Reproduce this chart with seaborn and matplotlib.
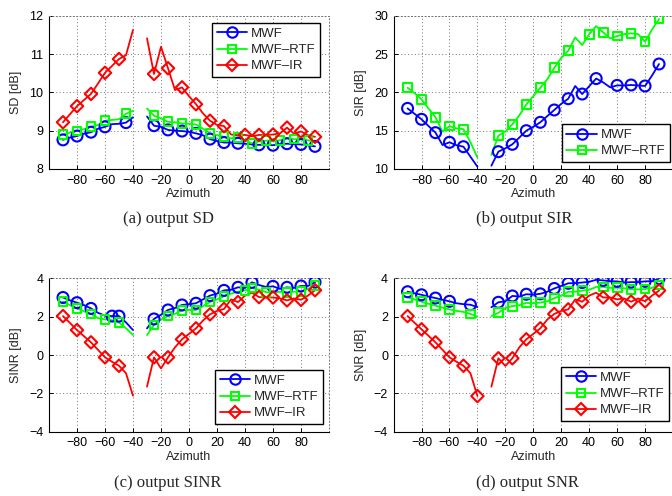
import numpy as np
import pandas as pd
import matplotlib
matplotlib.use("Agg")
import matplotlib.pyplot as plt
import seaborn as sns
from matplotlib.lines import Line2D

sns.set_theme(style="white")
plt.rcParams['font.family'] = ['Liberation Sans', 'DejaVu Sans']
plt.rcParams['axes.unicode_minus'] = True

nan = np.nan
azimuth = [-90, -85, -80, -75, -70, -65, -60, -55, -50, -45, -40, -35, -30, -25, -20,
           -15, -10, -5, 0, 5, 10, 15, 20, 25, 30, 35, 40, 45, 50, 55, 60, 65, 70,
           75, 80, 85, 90]

series_names = ["MWF", "MWF\u2013RTF", "MWF\u2013IR"]

# (a) SD [dB]
sd_mwf = [8.76, 8.82, 8.86, 8.92, 8.96, 9.05, 9.10, 9.17, 9.18, 9.21, 9.35, nan, 9.37, 9.13, 9.10,
          9.02, 9.00, 8.99, 8.97, 8.93, 8.88, 8.78, 8.73, 8.69, 8.69, 8.67, 8.66, 8.64, 8.63, 8.63,
          8.62, 8.65, 8.66, 8.65, 8.64, 8.62, 8.59]
sd_rtf = [8.89, 8.95, 8.99, 9.04, 9.10, 9.15, 9.26, 9.28, 9.30, 9.44, 9.52, nan, 9.58, 9.39, 9.32,
          9.23, 9.22, 9.19, 9.18, 9.16, 9.05, 8.93, 8.88, 8.84, 8.80, 8.83, 8.75, 8.67, 8.72, 8.74,
          8.73, 8.75, 8.80, 8.78, 8.77, 8.75, 8.72]
sd_ir = [9.22, 9.43, 9.64, 9.80, 9.96, 10.23, 10.51, 10.69, 10.87, 10.97, 11.63, nan, 11.41, 10.48,
         11.19, 10.63, 10.06, 10.13, 9.90, 9.69, 9.45, 9.26, 9.15, 9.12, 8.90, 8.88, 8.89, 8.85,
         8.89, 8.88, 8.90, 8.93, 9.08, 8.92, 8.98, 8.88, 8.84]
sd_mwf_marks = [-90, -80, -70, -60, -45, -25, -15, -5, 5, 15, 25, 35, 50, 60, 70, 80, 90]
sd_rtf_marks = [-90, -80, -70, -60, -45, -25, -15, -5, 5, 15, 25, 35, 45, 55, 65, 75, 85]
sd_ir_marks = [-90, -80, -70, -60, -50, -25, -15, -5, 5, 15, 25, 40, 50, 60, 70, 80, 90]

# (b) SIR [dB]
sir_mwf = [17.91, 17.2, 16.48, 15.6, 14.74, 13.13, 13.48, 13.1, 12.91, 11.6, 10.3, nan, 10.43, 12.26,
           12.7, 13.22, 14.1, 15.0, 15.5, 16.09, 16.9, 17.7, 18.5, 19.17, 20.83, 19.78, 20.8, 21.8,
           21.3, 20.65, 20.91, 20.9, 20.96, 20.9, 20.83, 22.2, 23.7]
sir_rtf = [20.6, 19.9, 19.09, 17.9, 16.74, 14.87, 15.6, 15.3, 15.2, 13.5, 11.5, nan, 11.83, 14.35,
           14.9, 15.83, 17.0, 18.43, 19.5, 20.6, 21.7, 23.2, 24.5, 25.43, 27.17, 26.17, 27.6, 28.65,
           27.83, 27.04, 27.35, 27.6, 27.7, 27.6, 26.6, 28.2, 29.57]
sir_mwf_marks = [-90, -80, -70, -60, -50, -25, -15, -5, 5, 15, 25, 35, 45, 60, 70, 80, 90]
sir_rtf_marks = [-90, -80, -70, -60, -50, -25, -15, -5, 5, 15, 25, 40, 50, 60, 70, 80, 90]

# (c) SINR [dB]
sinr_mwf = [3.0, 2.85, 2.73, 2.6, 2.43, 2.2, 2.05, 2.03, 2.03, 1.7, 1.3, nan, 1.39, 1.88, 2.1, 2.35,
            2.45, 2.61, 2.65, 2.7, 2.9, 3.1, 3.2, 3.37, 3.4, 3.53, 3.5, 3.79, 3.65, 3.55, 3.58, 3.45,
            3.53, 3.5, 3.6, 3.6, 3.8]
sinr_rtf = [2.78, 2.6, 2.43, 2.28, 2.14, 1.92, 1.86, 1.82, 1.69, 1.40, 1.04, nan, 1.04, 1.57, 1.85,
            2.03, 2.15, 2.33, 2.35, 2.35, 2.55, 2.77, 2.9, 3.06, 3.2, 3.3, 3.37, 3.5, 3.4, 3.28, 3.25,
            3.3, 3.25, 3.3, 3.31, 3.45, 3.62]
sinr_ir = [2.03, 1.67, 1.3, 0.98, 0.66, 0.27, -0.12, -0.35, -0.56, -0.95, -2.12, nan, -1.65, -0.12,
           -0.70, -0.12, 0.4, 0.82, 1.1, 1.39, 1.8, 2.12, 2.3, 2.4, 2.9, 2.76, 3.1, 3.25, 3.02, 3.0,
           3.0, 2.95, 2.85, 2.95, 2.88, 3.1, 3.38]
sinr_mwf_marks = [-90, -80, -70, -55, -50, -25, -15, -5, 5, 15, 25, 35, 45, 60, 70, 80, 90]
sinr_rtf_marks = [-90, -80, -70, -60, -50, -25, -15, -5, 5, 15, 25, 40, 45, 55, 70, 80, 90]
sinr_ir_marks = [-90, -80, -70, -60, -50, -25, -15, -5, 5, 15, 25, 35, 50, 60, 70, 80, 90]

# (d) SNR [dB]
snr_mwf = [3.3, 3.22, 3.14, 3.05, 2.97, 2.88, 2.8, 2.7, 2.65, 2.62, 2.5, nan, 2.49, 2.75, 2.8, 3.08,
           3.05, 3.17, 3.15, 3.19, 3.3, 3.47, 3.6, 3.74, 3.75, 3.78, 3.82, 3.92, 3.89, 3.85, 3.84,
           3.78, 3.8, 3.8, 3.84, 3.85, 3.99]
snr_rtf = [3.01, 2.9, 2.78, 2.67, 2.57, 2.47, 2.38, 2.3, 2.25, 2.14, 2.0, nan, 2.03, 2.2, 2.45, 2.55,
           2.6, 2.72, 2.7, 2.73, 2.8, 2.96, 3.1, 3.3, 3.3, 3.36, 3.4, 3.55, 3.55, 3.5, 3.51, 3.48,
           3.42, 3.42, 3.44, 3.5, 3.65]
snr_ir = [2.03, 1.68, 1.34, 1.0, 0.66, 0.27, -0.12, -0.35, -0.56, -0.95, -2.14, nan, -1.65, -0.17,
          -0.57, -0.17, 0.4, 0.82, 1.1, 1.39, 1.85, 2.14, 2.3, 2.38, 2.9, 2.78, 3.1, 3.25, 3.0, 3.0,
          2.9, 2.95, 2.78, 2.95, 2.8, 3.1, 3.36]
snr_mwf_marks = [-90, -80, -70, -60, -45, -25, -15, -5, 5, 15, 25, 35, 50, 60, 70, 80, 90]
snr_rtf_marks = [-90, -80, -70, -60, -45, -25, -15, -5, 5, 15, 25, 35, 50, 60, 70, 80, 90]
snr_ir_marks = [-90, -80, -70, -60, -50, -40, -25, -15, -5, 5, 15, 25, 35, 50, 60, 70, 80, 90]

xticks = [-80, -60, -40, -20, 0, 20, 40, 60, 80]

styles = {
    "MWF": dict(color=(0, 0, 1), marker="o", s=62),
    "MWF\u2013RTF": dict(color=(0, 1, 0), marker="s", s=40),
    "MWF\u2013IR": dict(color=(1, 0, 0), marker="D", s=40),
}
leg_ms = {"o": 7.5, "s": 6.2, "D": 6.2}

LW = 1.3
MEW = 1.5

fig = plt.figure(figsize=(6.72, 4.96), dpi=100)


def panel(pos, data, ylim, yticks, ylabel, leg_loc, leg_anchor, caption, cap_xy):
    ax = fig.add_axes(pos)
    for name, vals, marks in data:
        st = styles[name]
        df = pd.DataFrame({"az": azimuth, "val": vals})
        df["seg"] = np.where(df["az"] <= -40, 0, 1)
        df = df.dropna()
        sns.lineplot(data=df, x="az", y="val", units="seg", estimator=None, sort=False,
                     color=st["color"], lw=LW, ax=ax, zorder=2)
        mk = df[df["az"].isin(marks)]
        sns.scatterplot(data=mk, x="az", y="val", marker=st["marker"], s=st["s"],
                        color=st["color"], facecolor="none", edgecolor=st["color"],
                        linewidth=MEW, ax=ax, zorder=3)
    ax.set_xlim(-100, 100)
    ax.set_ylim(*ylim)
    ax.set_xticks(xticks)
    ax.set_yticks(yticks)
    ax.grid(True, linestyle=(0, (1, 2.5)), color="0.45", linewidth=0.7)
    for side in ["left", "bottom"]:
        ax.spines[side].set_color("black")
        ax.spines[side].set_linewidth(0.8)
    for side in ["top", "right"]:
        ax.spines[side].set_color("0.45")
        ax.spines[side].set_linewidth(0.7)
        ax.spines[side].set_linestyle((0, (1, 2.5)))
    ax.tick_params(bottom=True, left=True, direction="in", length=3, width=0.7,
                   labelsize=9, colors="black", pad=4)
    ax.set_xlabel("Azimuth", fontsize=9, labelpad=1)
    ax.set_ylabel(ylabel, fontsize=9, labelpad=5)
    handles = [Line2D([], [], color=styles[n]["color"], lw=LW, marker=styles[n]["marker"],
                      markersize=leg_ms[styles[n]["marker"]], markerfacecolor="none",
                      markeredgewidth=MEW) for n, _, _ in data]
    labels = [n for n, _, _ in data]
    leg = ax.legend(handles, labels, loc=leg_loc, bbox_to_anchor=leg_anchor, borderaxespad=0,
                    frameon=True, fancybox=False, framealpha=1, edgecolor="black",
                    fontsize=9.5, handlelength=2.3, handletextpad=0.3, borderpad=0.35,
                    labelspacing=0.3)
    leg.get_frame().set_linewidth(1.0)
    fig.text(cap_xy[0], cap_xy[1], caption, ha="center", va="center",
             family=["Liberation Serif", "DejaVu Serif"], fontsize=12)
    return ax


top_b, top_h = 0.6593, 0.3090
bot_b, bot_h = 0.1296, 0.3093
left_l, left_w = 0.0729, 0.4167
right_l, right_w = 0.5857, 0.4158

panel([left_l, top_b, left_w, top_h],
      [("MWF", sd_mwf, sd_mwf_marks), ("MWF\u2013RTF", sd_rtf, sd_rtf_marks),
       ("MWF\u2013IR", sd_ir, sd_ir_marks)],
      (8, 12), [8, 9, 10, 11, 12], "SD [dB]", "upper right", (0.968, 0.952),
      "(a) output SD", (0.25, 0.558))

panel([right_l, top_b, right_w, top_h],
      [("MWF", sir_mwf, sir_mwf_marks), ("MWF\u2013RTF", sir_rtf, sir_rtf_marks)],
      (10, 30), [10, 15, 20, 25, 30], "SIR [dB]", "lower right", (0.989, 0.046),
      "(b) output SIR", (0.78, 0.558))

panel([left_l, bot_b, left_w, bot_h],
      [("MWF", sinr_mwf, sinr_mwf_marks), ("MWF\u2013RTF", sinr_rtf, sinr_rtf_marks),
       ("MWF\u2013IR", sinr_ir, sinr_ir_marks)],
      (-4, 4), [-4, -2, 0, 2, 4], "SINR [dB]", "lower right", (0.979, 0.05),
      "(c) output SINR", (0.25, 0.026))

panel([right_l, bot_b, right_w, bot_h],
      [("MWF", snr_mwf, snr_mwf_marks), ("MWF\u2013RTF", snr_rtf, snr_rtf_marks),
       ("MWF\u2013IR", snr_ir, snr_ir_marks)],
      (-4, 4), [-4, -2, 0, 2, 4], "SNR [dB]", "lower right", (0.986, 0.07),
      "(d) output SNR", (0.785, 0.026))

fig.savefig("out.png", dpi=100)
